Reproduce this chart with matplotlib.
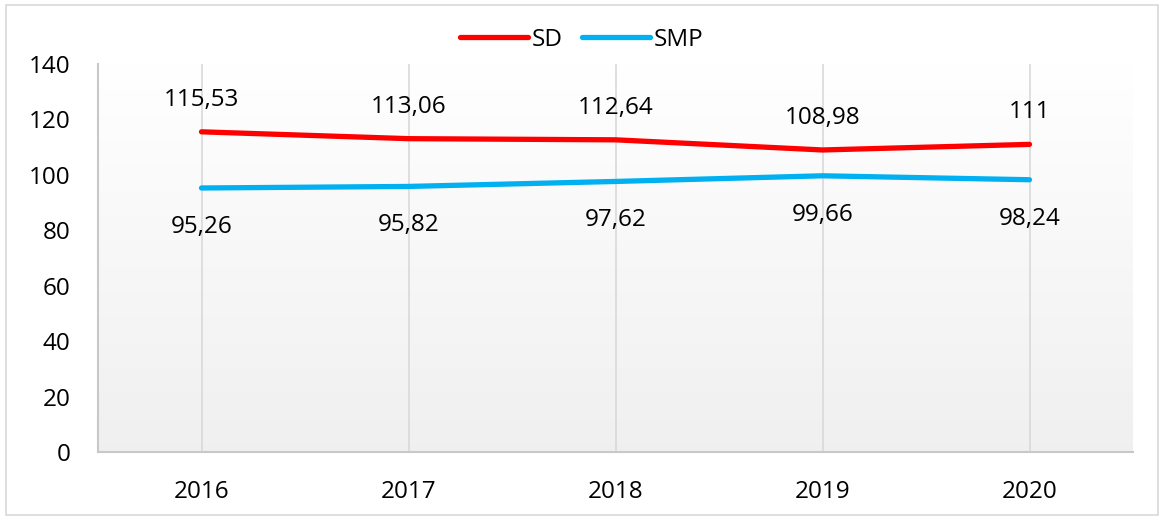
import numpy as np
import matplotlib.pyplot as plt

years = ["2016", "2017", "2018", "2019", "2020"]
sd = [115.53, 113.06, 112.64, 108.98, 111]
smp = [95.26, 95.82, 97.62, 99.66, 98.24]
sd_labels = ["115,53", "113,06", "112,64", "108,98", "111"]
smp_labels = ["95,26", "95,82", "97,62", "99,66", "98,24"]

plt.rcParams['font.family'] = ['Open Sans', 'DejaVu Sans']
fs = 17.5

fig = plt.figure(figsize=(11.64, 5.20), dpi=100)
ax = fig.add_axes([98 / 1164, (520 - 452) / 520, (1133 - 98) / 1164, (452 - 64) / 520])

# figure border
fig.patches.append(plt.Rectangle((6 / 1164, 5 / 520), 1152 / 1164, 510 / 520,
                                 transform=fig.transFigure, fill=False,
                                 edgecolor="#d9d9d9", lw=1.2))

x = np.arange(len(years))
ax.set_xlim(-0.5, 4.5)
ax.set_ylim(0, 140)

# gradient background
grad = np.linspace(1.0, 0.94, 256).reshape(-1, 1)
ax.imshow(np.dstack([grad, grad, grad]), extent=[-0.5, 4.5, 0, 140],
          aspect="auto", zorder=0, origin="upper")

for xi in x:
    ax.axvline(xi, color="#d9d9d9", lw=1.2, zorder=1)

ax.plot(x, sd, color="#ff0000", lw=3.8, solid_capstyle="round", label="SD", zorder=3)
ax.plot(x, smp, color="#00b0f0", lw=3.8, solid_capstyle="round", label="SMP", zorder=3)

for xi, v, t in zip(x, sd, sd_labels):
    ax.annotate(t, (xi, v), xytext=(0, 23), textcoords="offset points",
                ha="center", va="center", fontsize=fs)
for xi, v, t in zip(x, smp, smp_labels):
    ax.annotate(t, (xi, v), xytext=(0, -28), textcoords="offset points",
                ha="center", va="center", fontsize=fs)

ax.set_xticks(x)
ax.set_xticklabels(years)
ax.set_yticks(range(0, 141, 20))
ax.tick_params(axis="both", length=0, labelsize=fs)
ax.tick_params(axis="x", pad=20)
ax.tick_params(axis="y", pad=20)

for s in ["top", "right"]:
    ax.spines[s].set_visible(False)
for s in ["left", "bottom"]:
    ax.spines[s].set_color("#c8c8c8")
    ax.spines[s].set_linewidth(1.5)

fig.legend(loc="center", bbox_to_anchor=(0.5, 1 - 40 / 520), ncol=2, frameon=False,
           fontsize=fs, handlelength=2.8, handletextpad=0.15, columnspacing=0.8)

fig.savefig("out.png", dpi=100)
